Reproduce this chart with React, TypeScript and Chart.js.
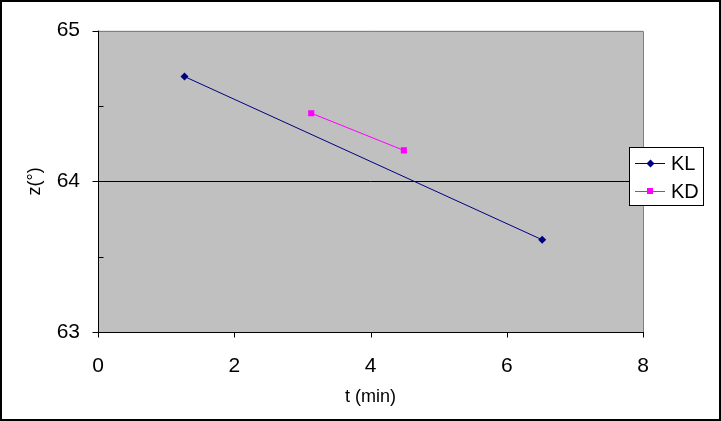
import React, { useEffect, useRef } from "react";
import { Chart, registerables } from "chart.js";

Chart.register(...registerables);

const seriesNames = ["KL", "KD"];
const klTimes = [1.27, 6.52];
const klAngles = [64.695, 63.612];
const kdTimes = [3.13, 4.49];
const kdAngles = [64.452, 64.205];
const xTicks = [0, 2, 4, 6, 8];
const yMajorTicks = [63, 64, 65];
const yMinorTicks = [63.5, 64.5];
const xTitle = "t (min)";
const yTitle = "z(°)";

const FONT = "'Liberation Sans', Arial, sans-serif";
const KL_COLOR = "#000080";
const KD_COLOR = "#FF00FF";

const decorPlugin = {
  id: "decor",
  beforeDraw(chart: any) {
    const { ctx, chartArea: a, width, height } = chart;
    ctx.save();
    ctx.fillStyle = "#ffffff";
    ctx.fillRect(0, 0, width, height);
    ctx.fillStyle = "#C0C0C0";
    ctx.fillRect(a.left, a.top, a.right - a.left, a.bottom - a.top);
    ctx.restore();
  },
  afterDraw(chart: any) {
    const { ctx, chartArea: a, width, height } = chart;
    const xs = chart.scales.x;
    const ys = chart.scales.y;
    ctx.save();
    ctx.strokeStyle = "#808080";
    ctx.lineWidth = 1;
    ctx.beginPath();
    ctx.moveTo(a.left, Math.round(a.top) + 0.5);
    ctx.lineTo(Math.round(a.right) + 0.5, Math.round(a.top) + 0.5);
    ctx.lineTo(Math.round(a.right) + 0.5, a.bottom);
    ctx.stroke();
    ctx.strokeStyle = "#000000";
    ctx.beginPath();
    const lx = Math.round(a.left) + 0.5;
    const by = Math.round(a.bottom) + 0.5;
    ctx.moveTo(lx, a.top);
    ctx.lineTo(lx, by);
    ctx.lineTo(a.right + 1, by);
    yMajorTicks.forEach((v) => {
      const y = Math.round(ys.getPixelForValue(v)) + 0.5;
      ctx.moveTo(lx - 6, y);
      ctx.lineTo(lx, y);
    });
    yMinorTicks.forEach((v) => {
      const y = Math.round(ys.getPixelForValue(v)) + 0.5;
      ctx.moveTo(lx, y);
      ctx.lineTo(lx + 5, y);
    });
    xTicks.forEach((v) => {
      const x = Math.round(xs.getPixelForValue(v)) + 0.5;
      ctx.moveTo(x, by);
      ctx.lineTo(x, by + 5);
    });
    ctx.stroke();

    const L = 629, T = 147, R = 703, B = 205;
    ctx.fillStyle = "#ffffff";
    ctx.fillRect(L, T, R - L, B - T);
    ctx.strokeStyle = "#000000";
    ctx.strokeRect(L + 0.5, T + 0.5, R - L, B - T);
    const rows = [163, 191];
    chart.data.datasets.forEach((ds: any, i: number) => {
      const y = rows[i] + 0.5;
      ctx.strokeStyle = ds.borderColor;
      ctx.lineWidth = 1;
      ctx.beginPath();
      ctx.moveTo(635, y);
      ctx.lineTo(665, y);
      ctx.stroke();
      ctx.fillStyle = ds.backgroundColor;
      ctx.beginPath();
      if (i === 0) {
        ctx.moveTo(650.5, y - 4);
        ctx.lineTo(654.5, y);
        ctx.lineTo(650.5, y + 4);
        ctx.lineTo(646.5, y);
        ctx.closePath();
        ctx.fill();
      } else {
        ctx.fillRect(647, rows[i] - 3, 6, 6);
      }
      ctx.fillStyle = "#000000";
      ctx.font = `20px ${FONT}`;
      ctx.textBaseline = "middle";
      ctx.textAlign = "left";
      ctx.fillText(ds.label, 671, rows[i] + 1);
    });

    ctx.strokeStyle = "#000000";
    ctx.lineWidth = 2;
    ctx.strokeRect(1, 1, width - 2, height - 2);
    ctx.restore();
  },
};

export default function App() {
  const ref = useRef<HTMLCanvasElement | null>(null);
  useEffect(() => {
    document.body.style.margin = "0";
    const canvas = ref.current!;
    const chart = new Chart(canvas, {
      type: "scatter",
      data: {
        datasets: [
          {
            label: seriesNames[0],
            data: klTimes.map((t, i) => ({ x: t, y: klAngles[i] })),
            showLine: true,
            borderColor: KL_COLOR,
            backgroundColor: KL_COLOR,
            borderWidth: 1,
            pointStyle: "rectRot",
            pointRadius: 4,
            pointBorderWidth: 0,
          },
          {
            label: seriesNames[1],
            data: kdTimes.map((t, i) => ({ x: t, y: kdAngles[i] })),
            showLine: true,
            borderColor: KD_COLOR,
            backgroundColor: KD_COLOR,
            borderWidth: 1,
            pointStyle: "rect",
            pointRadius: 4.3,
            pointBorderWidth: 0,
          },
        ],
      },
      options: {
        responsive: false,
        animation: false,
        devicePixelRatio: 1,
        layout: { padding: { left: 0, top: 30, right: 78, bottom: 0 } },
        plugins: { legend: { display: false }, tooltip: { enabled: false } },
        scales: {
          x: {
            type: "linear",
            min: 0,
            max: 8,
            afterFit: (s: any) => {
              s.height = 89;
            },
            afterBuildTicks: (s: any) => {
              s.ticks = xTicks.map((v) => ({ value: v }));
            },
            ticks: {
              color: "#000000",
              font: { family: FONT, size: 21 },
              padding: 22,
              maxRotation: 0,
            },
            grid: { display: false, drawTicks: false },
            border: { display: false },
            title: {
              display: true,
              text: xTitle,
              color: "#000000",
              font: { family: FONT, size: 18 },
              padding: { top: 0, bottom: 13 },
            },
          },
          y: {
            type: "linear",
            min: 63,
            max: 65,
            afterFit: (s: any) => {
              s.width = 98;
            },
            afterBuildTicks: (s: any) => {
              s.ticks = yMajorTicks.map((v) => ({ value: v }));
            },
            ticks: {
              color: "#000000",
              font: { family: FONT, size: 21 },
              padding: 18,
            },
            grid: {
              drawTicks: false,
              color: (c: any) => (c.tick && c.tick.value === 64 ? "#000000" : "rgba(0,0,0,0)"),
              lineWidth: 1,
            },
            border: { display: false },
            title: {
              display: true,
              text: yTitle,
              color: "#000000",
              font: { family: FONT, size: 18 },
              padding: { top: 24, bottom: 0 },
            },
          },
        },
      },
      plugins: [decorPlugin],
    });
    return () => chart.destroy();
  }, []);
  return (
    <div style={{ width: 721, height: 421 }}>
      <canvas ref={ref} width={721} height={421} style={{ display: "block" }} />
    </div>
  );
}
